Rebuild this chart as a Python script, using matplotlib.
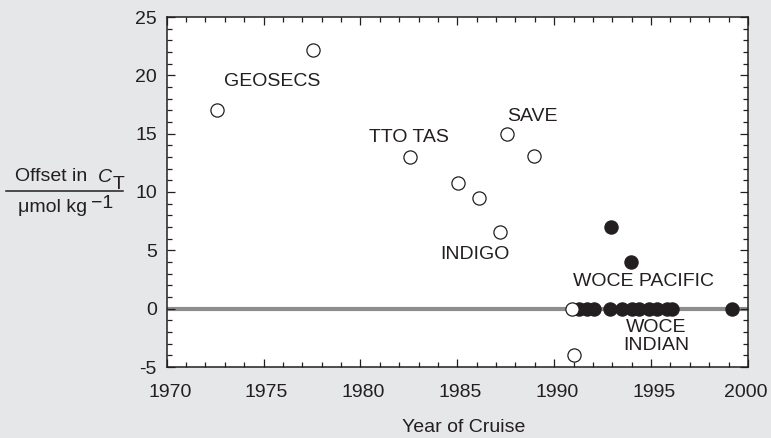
import numpy as np
import matplotlib.pyplot as plt
import matplotlib.transforms as mtransforms
from matplotlib.lines import Line2D
from matplotlib.ticker import MultipleLocator

plt.rcParams['font.family'] = ['Liberation Sans', 'DejaVu Sans']

# open circles: earlier cruises
open_year = [1972.6, 1977.55, 1982.55, 1985.05, 1986.1, 1987.2, 1987.55, 1988.95, 1990.9, 1991.0]
open_offset = [17.0, 22.2, 13.0, 10.8, 9.5, 6.6, 15.0, 13.1, 0.0, -4.0]

# filled circles: WOCE cruises
woce_year = [1991.3, 1991.7, 1992.05, 1992.95, 1992.9, 1993.5, 1993.95, 1994.0,
             1994.4, 1994.9, 1995.3, 1995.8, 1996.1, 1999.15]
woce_offset = [0, 0, 0, 7, 0, 0, 4, 0, 0, 0, 0, 0, 0, 0]

labels = ['GEOSECS', 'TTO TAS', 'SAVE', 'INDIGO', 'WOCE PACIFIC', 'WOCE\nINDIAN']
label_x = [1975.45, 1982.5, 1988.85, 1985.9, 1994.6, 1995.25]
label_y = [19.45, 14.7, 16.5, 4.65, 2.35, -2.4]

xtick_years = [1970, 1975, 1980, 1985, 1990, 1995, 2000]
ytick_vals = [-5, 0, 5, 10, 15, 20, 25]

ink = '#231f20'
W, H = 771, 438
fig = plt.figure(figsize=(7.71, 4.38), dpi=100, facecolor='#e6e7e8')
ax = fig.add_axes([166.7 / W, 1 - 367 / H, (748 - 166.7) / W, (367 - 17) / H])
ax.set_facecolor('white')

ax.axhline(0, color='#8d8d8d', lw=3.0, zorder=1)
ax.plot(open_year, open_offset, 'o', ms=9.5, mfc='white', mec=ink, mew=0.9,
        zorder=4, linestyle='none')
ax.plot(woce_year, woce_offset, 'o', ms=9.5, mfc=ink, mec=ink, mew=0.9,
        zorder=3, linestyle='none')

for t, x, y in zip(labels, label_x, label_y):
    ax.text(x, y, t, ha='center', va='center', fontsize=14, color=ink,
            linespacing=1.05)

ax.set_xlim(1970, 2000)
ax.set_ylim(-5, 25)
ax.set_xticks(xtick_years)
ax.xaxis.set_minor_locator(MultipleLocator(1))
ax.set_yticks(ytick_vals)
ax.set_yticklabels([str(v) for v in ytick_vals])
ax.yaxis.set_minor_locator(MultipleLocator(1))
ax.tick_params(which='both', direction='in', top=True, right=True,
               color=ink, width=0.9, labelsize=14, labelcolor=ink,
               labelbottom=False)
ax.tick_params(which='major', length=6)
ax.tick_params(which='minor', length=3.6)
ax.tick_params(axis='y', pad=7)

# x tick labels, nudged a few pixels right like the original (last kept inside)
for yr in xtick_years:
    dx = 3 if yr < 2000 else -2
    off = mtransforms.ScaledTranslation(dx / 100, -17 / 100, fig.dpi_scale_trans)
    ax.text(yr, 0, str(yr), transform=ax.get_xaxis_transform() + off,
            ha='center', va='top', fontsize=14, color=ink, clip_on=False)

for s in ax.spines.values():
    s.set_color(ink)
    s.set_linewidth(1.1)

fig.text(464 / W, 1 - 428 / H, 'Year of Cruise', ha='center', va='center',
         fontsize=14, color=ink)

# y label as a fraction
fig.text(15 / W, 1 - 181 / H, 'Offset in', ha='left', va='baseline',
         fontsize=14, color=ink)
fig.text(98 / W, 1 - 182 / H, 'C', ha='left', va='baseline', style='italic',
         fontsize=14, color=ink)
fig.text(113 / W, 1 - 189 / H, 'T', ha='left', va='baseline',
         fontsize=14, color=ink)
fig.text(18 / W, 1 - 212 / H, '\u03bcmol kg', ha='left', va='baseline',
         fontsize=14, color=ink)
fig.text(91 / W, 1 - 208 / H, '\u22121', ha='left', va='baseline',
         fontsize=14, color=ink)
fig.add_artist(Line2D([6 / W, 123 / W], [1 - 191 / H, 1 - 191 / H],
                      color=ink, lw=1.1))

fig.savefig('out.png', dpi=100, facecolor=fig.get_facecolor())
